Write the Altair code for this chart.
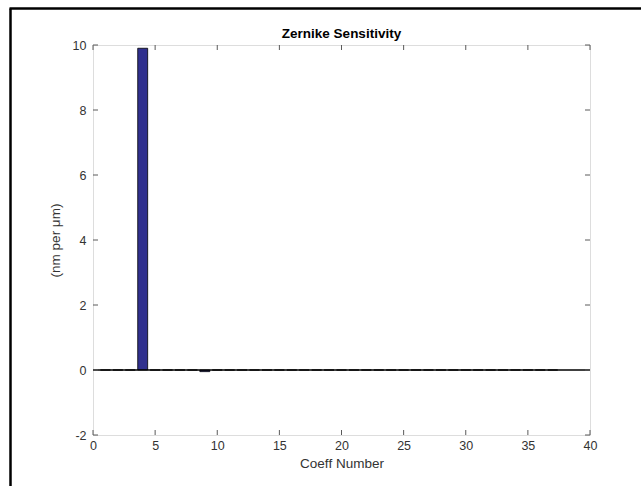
import altair as alt
import pandas as pd

# Data
coeff_numbers = list(range(1, 38))
sensitivity = [0.0, 0.0, 0.0, 9.9, 0.0, 0.0, 0.0, 0.0, -0.05, 0.0,
               0.0, 0.0, 0.0, 0.0, 0.0, 0.0, 0.0, 0.0, 0.0, 0.0,
               0.0, 0.0, 0.0, 0.0, 0.0, 0.0, 0.0, 0.0, 0.0, 0.0,
               0.0, 0.0, 0.0, 0.0, 0.0, 0.0, 0.0]
x_ticks = [0, 5, 10, 15, 20, 25, 30, 35, 40]
y_ticks = [-2, 0, 2, 4, 6, 8, 10]
chart_title = "Zernike Sensitivity"

df = pd.DataFrame({"coeff": coeff_numbers, "value": sensitivity})
xt = pd.DataFrame({"t": x_ticks})
yt = pd.DataFrame({"t": y_ticks})

W, H = 497, 390
AX = "#5a5a5a"
FONT = "Liberation Sans"
LBL = "datum.value < 0 ? '-' + abs(datum.value) : datum.label"

xscale = alt.Scale(domain=[0, 40], nice=False, zero=False)
yscale = alt.Scale(domain=[-2, 10], nice=False, zero=False)

bars = alt.Chart(df).transform_calculate(
    x0="datum.coeff - 0.4", x1="datum.coeff + 0.4", base="0"
).mark_bar(color="#30308E", stroke="black", strokeWidth=0.8).encode(
    x=alt.X("x0:Q", scale=xscale,
            axis=alt.Axis(values=x_ticks, title="Coeff Number", ticks=False,
                          labelPadding=4, titlePadding=5, domain=False, grid=False,
                          labelFlush=False, labelOverlap=False,
                          labelFontSize=12.5, titleFontSize=13.5, labelColor="#333",
                          titleColor="#333", labelFont=FONT, titleFont=FONT,
                          titleFontWeight="normal", labelExpr=LBL)),
    x2="x1:Q",
    y=alt.Y("value:Q", scale=yscale,
            axis=alt.Axis(values=y_ticks, title="(nm per μm)", ticks=False,
                          labelPadding=7, titlePadding=10, domain=False, grid=False,
                          labelFlush=False, labelOverlap=False,
                          labelFontSize=12.5, titleFontSize=13.5, labelColor="#333",
                          titleColor="#333", labelFont=FONT, titleFont=FONT,
                          titleFontWeight="normal", labelExpr=LBL)),
    y2="base:Q",
)

baseline = alt.Chart(pd.DataFrame({"z": [0]})).mark_rule(color="black", strokeWidth=1.7).encode(
    y=alt.Y("z:Q", scale=yscale)
)

xt_bottom = alt.Chart(xt).mark_rule(color=AX, strokeWidth=1).encode(
    x=alt.X("t:Q", scale=xscale), y=alt.value(H), y2=alt.value(H - 5))
xt_top = alt.Chart(xt).mark_rule(color=AX, strokeWidth=1).encode(
    x=alt.X("t:Q", scale=xscale), y=alt.value(0), y2=alt.value(5))
yt_left = alt.Chart(yt).mark_rule(color=AX, strokeWidth=1).encode(
    y=alt.Y("t:Q", scale=yscale), x=alt.value(0), x2=alt.value(5))
yt_right = alt.Chart(yt).mark_rule(color=AX, strokeWidth=1).encode(
    y=alt.Y("t:Q", scale=yscale), x=alt.value(W), x2=alt.value(W - 5))

title_mark = alt.Chart(pd.DataFrame({"t": [chart_title]})).mark_text(
    font=FONT, fontSize=13.5, fontWeight="bold", color="black",
    align="center", baseline="alphabetic"
).encode(text="t:N", x=alt.value(W / 2), y=alt.value(-7))

frame_left = alt.Chart(pd.DataFrame({"a": [0]})).mark_rule(color="black", strokeWidth=2.5).encode(
    x=alt.value(-82.5), y=alt.value(-36.5), y2=alt.value(445))
frame_top = alt.Chart(pd.DataFrame({"a": [0]})).mark_rule(color="black", strokeWidth=2.5).encode(
    y=alt.value(-36.5), x=alt.value(-83.5), x2=alt.value(552))

chart = alt.layer(
    bars, baseline, xt_bottom, xt_top, yt_left, yt_right, title_mark, frame_left, frame_top
).properties(
    width=W, height=H,
    autosize=alt.AutoSizeParams(type="none"),
    padding={"left": 93, "top": 45, "right": 51, "bottom": 51},
).configure_view(stroke=AX, strokeWidth=1).configure(background="white")

chart.save("out.html", embed_options={"renderer": "svg", "actions": False})
